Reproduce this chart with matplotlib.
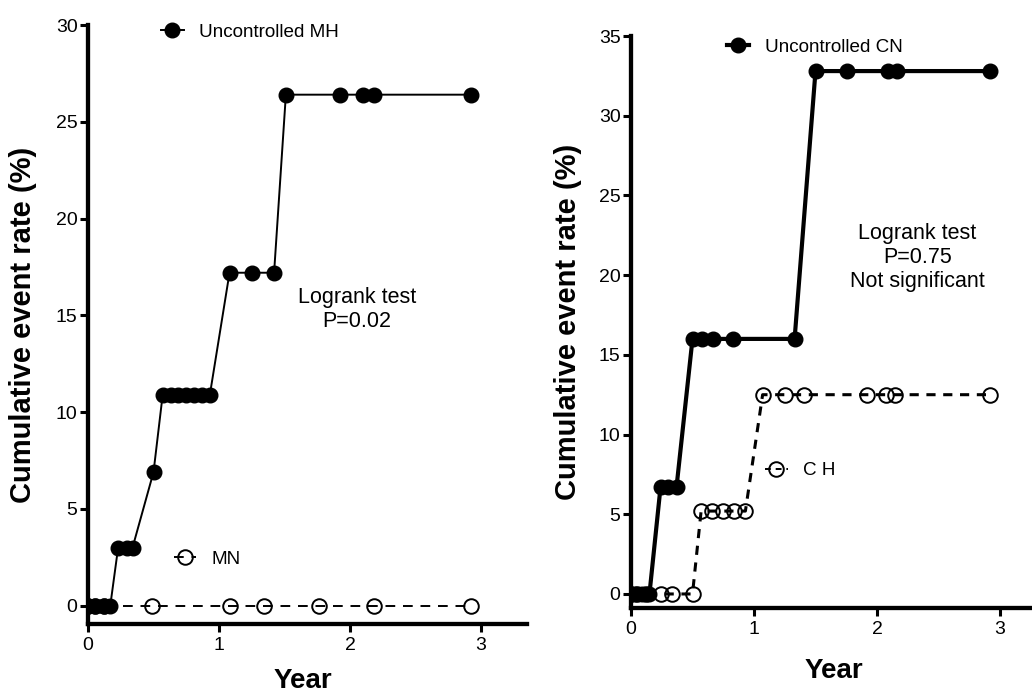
import matplotlib
matplotlib.use('Agg')
import matplotlib.pyplot as plt
from matplotlib.lines import Line2D

plt.rcParams['font.family'] = ['Liberation Sans', 'DejaVu Sans']

# --- left panel: MH ---
mh_unc_x = [0.00, 0.05, 0.12, 0.17, 0.23, 0.30, 0.34, 0.50, 0.57, 0.63, 0.69, 0.75,
            0.81, 0.87, 0.93, 1.08, 1.25, 1.42, 1.51, 1.92, 2.10, 2.18, 2.92]
mh_unc_y = [0.0, 0.0, 0.0, 0.0, 3.0, 3.0, 3.0, 6.9, 10.9, 10.9, 10.9, 10.9,
            10.9, 10.9, 10.9, 17.2, 17.2, 17.2, 26.4, 26.4, 26.4, 26.4, 26.4]
mh_ctl_x = [0.00, 0.05, 0.12, 0.49, 1.08, 1.34, 1.76, 2.18, 2.92]
mh_ctl_y = [0.0, 0.0, 0.0, 0.0, 0.0, 0.0, 0.0, 0.0, 0.0]

# --- right panel: CN / CH ---
cn_unc_x = [0.00, 0.03, 0.09, 0.15, 0.24, 0.30, 0.37, 0.50, 0.58, 0.67, 0.83,
            1.33, 1.50, 1.76, 2.09, 2.16, 2.92]
cn_unc_y = [0.0, 0.0, 0.0, 0.0, 6.7, 6.7, 6.7, 16.0, 16.0, 16.0, 16.0,
            16.0, 32.8, 32.8, 32.8, 32.8, 32.8]
ch_x = [0.00, 0.05, 0.12, 0.24, 0.33, 0.50, 0.57, 0.66, 0.75, 0.84, 0.93,
        1.07, 1.25, 1.41, 1.92, 2.07, 2.15, 2.92]
ch_y = [0.0, 0.0, 0.0, 0.0, 0.0, 0.0, 5.2, 5.2, 5.2, 5.2, 5.2,
        12.5, 12.5, 12.5, 12.5, 12.5, 12.5, 12.5]

W, H = 1032, 694
fig = plt.figure(figsize=(W / 100, H / 100), dpi=100)


def px_axes(x0, x1, ytop, ybot):
    return fig.add_axes([x0 / W, 1 - ybot / H, (x1 - x0) / W, (ybot - ytop) / H])


def style(ax, ylab_x, xlab_x, xlab_y):
    for s in ['top', 'right']:
        ax.spines[s].set_visible(False)
    for s in ['left', 'bottom']:
        ax.spines[s].set_linewidth(3.1)
    ax.tick_params(width=2.2, length=5.5, labelsize=14, direction='out')
    ax.tick_params(axis='x', pad=4)
    ax.tick_params(axis='y', pad=2)
    ax.set_xticks([0, 1, 2, 3])
    ax.set_xlabel('Year', fontsize=20, fontweight='bold', va='baseline')
    ax.set_ylabel('Cumulative event rate (%)', fontsize=21, fontweight='bold')
    ax.yaxis.set_label_coords(ylab_x, 0.5)
    ax.xaxis.set_label_coords(xlab_x, xlab_y)


MS = 10.5

# left
ax1 = px_axes(88, 527, 25, 624)
ax1.plot(mh_ctl_x, mh_ctl_y, color='black', lw=1.4, ls=(0, (5, 4)),
         marker='o', ms=MS, mfc='none', mec='black', mew=1.4)
ax1.plot(mh_unc_x, mh_unc_y, color='black', lw=1.4,
         marker='o', ms=MS, mfc='black', mec='black')
ax1.set_xlim(0, 3.35)
ax1.set_ylim(-0.95, 30)
ax1.set_yticks([0, 5, 10, 15, 20, 25, 30])
style(ax1, -0.116, 0.49, -0.1075)
ax1.text(2.05, 15.3, 'Logrank test\nP=0.02', ha='center', va='center',
         fontsize=15.5, linespacing=1.15)

h1 = Line2D([], [], color='black', lw=1.4, marker='o', ms=MS, mfc='black')
h2 = Line2D([], [], color='black', lw=1.4, ls=(0, (5, 4)), marker='o', ms=MS,
            mfc='none', mew=1.4)
leg = ax1.legend([h1], ['Uncontrolled MH'], loc='center left',
                 bbox_to_anchor=(0.149, 0.988), frameon=False, fontsize=13.6,
                 handlelength=1.2, handletextpad=0.8, borderaxespad=0)
ax1.add_artist(leg)
ax1.legend([h2], ['MN'], loc='center left', bbox_to_anchor=(0.178, 0.108),
           frameon=False, fontsize=13.6, handlelength=1.2, handletextpad=0.8,
           borderaxespad=0)

# right
ax2 = px_axes(631, 1032, 36, 608)
ax2.plot(ch_x, ch_y, color='black', lw=2.2, ls=(0, (3, 2.5)),
         marker='o', ms=MS, mfc='none', mec='black', mew=1.4)
ax2.plot(cn_unc_x, cn_unc_y, color='black', lw=3,
         marker='o', ms=MS, mfc='black', mec='black')
ax2.set_xlim(0, 3.26)
ax2.set_ylim(-0.88, 35)
ax2.set_yticks([0, 5, 10, 15, 20, 25, 30, 35])
style(ax2, -0.122, 0.505, -0.1224)
ax2.text(2.33, 21.1, 'Logrank test\nP=0.75\nNot significant', ha='center',
         va='center', fontsize=15.5, linespacing=1.2)

h3 = Line2D([], [], color='black', lw=3, marker='o', ms=MS, mfc='black')
h4 = Line2D([], [], color='black', lw=1.4, ls=(0, (3, 2.5)), marker='o', ms=MS,
            mfc='none', mew=1.4)
leg2 = ax2.legend([h3], ['Uncontrolled CN'], loc='center left',
                  bbox_to_anchor=(0.22, 0.98), frameon=False, fontsize=13.6,
                  handlelength=1.2, handletextpad=0.8, borderaxespad=0)
ax2.add_artist(leg2)
ax2.legend([h4], ['C H'], loc='center left', bbox_to_anchor=(0.315, 0.24),
           frameon=False, fontsize=13.6, handlelength=1.2, handletextpad=0.8,
           borderaxespad=0)

fig.savefig('out.png', dpi=100)
